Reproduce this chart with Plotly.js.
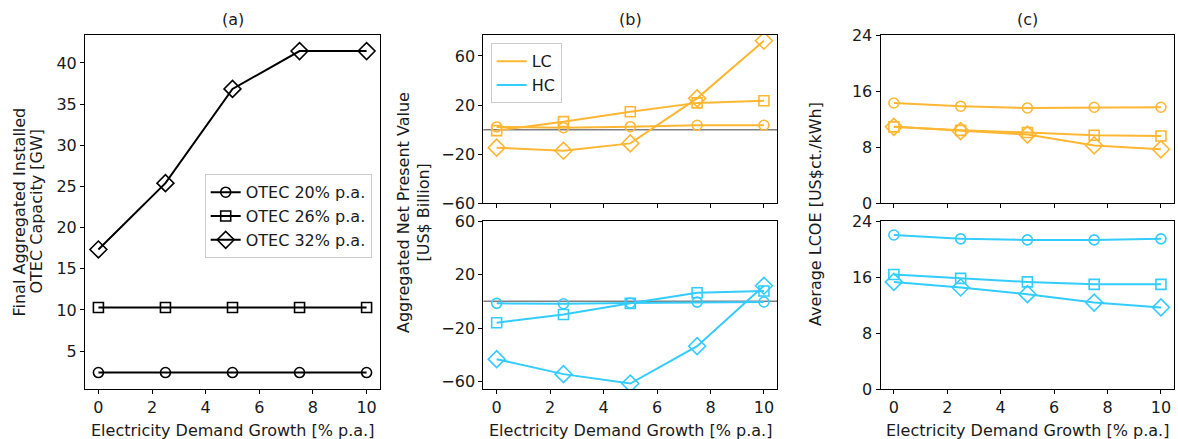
<!DOCTYPE html>
<html>
<head>
<meta charset="utf-8">
<script src="https://cdn.plot.ly/plotly-3.0.1.min.js"></script>
<style>html,body{margin:0;padding:0;background:#fff;}#chart{width:1178px;height:439px;}</style>
</head>
<body>
<div id="chart"></div>
<script>
// ---- data ----
const growth = [0, 2.5, 5, 7.5, 10];
const seriesNames = ["OTEC 20% p.a.", "OTEC 26% p.a.", "OTEC 32% p.a."];

// (a) Final aggregated installed OTEC capacity [GW]
const capacity20 = [2.4, 2.4, 2.4, 2.4, 2.4];
const capacity26 = [10.3, 10.3, 10.3, 10.3, 10.3];
const capacity32 = [17.35, 25.4, 36.85, 41.45, 41.45];

// (b) Aggregated NPV [US$ billion]
const npvLC20 = [2.2, 1.6, 2.4, 3.6, 3.6];
const npvLC26 = [-0.8, 6.5, 14.6, 21.8, 23.6];
const npvLC32 = [-14.7, -17.2, -11.2, 25.5, 72.4];
const npvHC20 = [-1.5, -1.8, -1.2, -0.6, -0.5];
const npvHC26 = [-16.0, -9.8, -1.5, 6.4, 7.7];
const npvHC32 = [-43.2, -54.4, -61.4, -33.5, 11.6];

// (c) Average LCOE [US$ct./kWh]
const lcoeLC20 = [14.3, 13.85, 13.6, 13.7, 13.7];
const lcoeLC26 = [10.9, 10.4, 10.1, 9.7, 9.6];
const lcoeLC32 = [10.9, 10.3, 9.8, 8.25, 7.7];
const lcoeHC20 = [22.0, 21.45, 21.3, 21.3, 21.45];
const lcoeHC26 = [16.35, 15.8, 15.3, 14.95, 14.95];
const lcoeHC32 = [15.3, 14.5, 13.55, 12.35, 11.65];

const xTicks = [0, 2, 4, 6, 8, 10];
const capTicks = [5, 10, 15, 20, 25, 30, 35, 40];
const npvTicks = [-60, -20, 20, 60];
const lcoeTicks = [0, 8, 16, 24];
const costLabels = ["LC", "HC"];

// ---- styles ----
const ORANGE = "#FFB733";
const CYAN = "#33CCFF";
const symbols = ["circle-open", "square-open", "diamond-open"];
const sizes = [10, 10, 13];
const FONT = "DejaVu Sans, sans-serif";
const FS = 16;

function tr(y, xa, ya, color, k, opts) {
  return Object.assign({
    x: growth, y: y, xaxis: xa, yaxis: ya, type: "scatter", mode: "lines+markers",
    line: {color: color, width: 2},
    marker: {symbol: symbols[k], size: sizes[k], color: color, line: {color: color, width: 1.6}},
    showlegend: false, hoverinfo: "x+y"
  }, opts || {});
}

const capSeries = [capacity20, capacity26, capacity32];
const traces = [];
capSeries.forEach((s, k) => traces.push(tr(s, "x", "y", "#000000", k,
  {name: seriesNames[k], showlegend: true, legend: "legend", legendgroup: "g" + k})));

[npvLC20, npvLC26, npvLC32].forEach((s, k) => traces.push(tr(s, "x2", "y2", ORANGE, k)));
[npvHC20, npvHC26, npvHC32].forEach((s, k) => traces.push(tr(s, "x3", "y3", CYAN, k)));
[lcoeLC20, lcoeLC26, lcoeLC32].forEach((s, k) => traces.push(tr(s, "x4", "y4", ORANGE, k)));
[lcoeHC20, lcoeHC26, lcoeHC32].forEach((s, k) => traces.push(tr(s, "x5", "y5", CYAN, k)));

// legend-only entries for LC / HC
[ORANGE, CYAN].forEach((c, i) => traces.push({
  x: [null], y: [null], xaxis: "x2", yaxis: "y2", type: "scatter", mode: "lines",
  line: {color: c, width: 2}, name: costLabels[i], showlegend: true, legend: "legend2",
  legendgroup: "c" + i
}));

const W = 1178, H = 439;
const px = v => v / W;
const py = v => (H - v) / H;

const domA = [px(85), px(380)];
const domB = [px(483.3), px(777.3)];
const domC = [px(880.5), px(1174.3)];
const yFull = [py(389), py(35)];
const yTop = [py(203.3), py(35)];
const yBot = [py(389), py(221)];

function xax(dom, anchor, labels) {
  return {
    domain: dom, anchor: anchor, range: [-0.5, 10.5], tickvals: xTicks,
    showticklabels: labels, ticks: "outside", ticklen: 4, tickwidth: 1, tickcolor: "#000",
    showline: true, mirror: true, linecolor: "#000", linewidth: 1,
    showgrid: false, zeroline: false,
    tickfont: {family: FONT, size: FS, color: "#1a1a1a"}
  };
}
function yax(dom, anchor, range, ticks) {
  return {
    domain: dom, anchor: anchor, range: range, tickvals: ticks,
    ticks: "outside", ticklen: 4, tickwidth: 1, tickcolor: "#000",
    showline: true, mirror: true, linecolor: "#000", linewidth: 1,
    showgrid: false, zeroline: false,
    tickfont: {family: FONT, size: FS, color: "#1a1a1a"}
  };
}

const xTitle = "Electricity Demand Growth [% p.a.]";
function ann(text, x, y, extra) {
  return Object.assign({text: text, x: x, y: y, xref: "paper", yref: "paper",
    showarrow: false, xanchor: "center", yanchor: "middle",
    font: {family: FONT, size: FS, color: "#1a1a1a"}}, extra || {});
}
const rot = {textangle: -90};

const layout = {
  width: W, height: H,
  margin: {l: 0, r: 0, t: 0, b: 0},
  paper_bgcolor: "#fff", plot_bgcolor: "#fff",
  font: {family: FONT, size: FS, color: "#1a1a1a"},
  xaxis: xax(domA, "y", true),
  yaxis: yax(yFull, "x", [0.4, 43.4], capTicks),
  xaxis2: xax(domB, "y2", false),
  yaxis2: yax(yTop, "x2", [-60, 77.1], npvTicks),
  xaxis3: xax(domB, "y3", true),
  yaxis3: yax(yBot, "x3", [-65.5, 60], npvTicks),
  xaxis4: xax(domC, "y4", false),
  yaxis4: yax(yTop, "x4", [0, 24], lcoeTicks),
  xaxis5: xax(domC, "y5", true),
  yaxis5: yax(yBot, "x5", [0, 24], lcoeTicks),
  legend: {
    x: px(371.7), y: py(174.3), xanchor: "right", yanchor: "top",
    bgcolor: "rgba(255,255,255,0.85)", bordercolor: "#cccccc", borderwidth: 1,
    font: {family: FONT, size: FS, color: "#1a1a1a"}, traceorder: "grouped", tracegroupgap: 0
  },
  legend2: {
    x: px(490.7), y: py(43.3), xanchor: "left", yanchor: "top",
    bgcolor: "rgba(255,255,255,0.85)", bordercolor: "#cccccc", borderwidth: 1,
    font: {family: FONT, size: FS, color: "#1a1a1a"}, traceorder: "grouped", tracegroupgap: 0
  },
  shapes: [
    {type: "line", xref: "x2 domain", yref: "y2", x0: 0, x1: 1, y0: 0, y1: 0,
     line: {color: "#808080", width: 1.5}, layer: "below"},
    {type: "line", xref: "x3 domain", yref: "y3", x0: 0, x1: 1, y0: 0, y1: 0,
     line: {color: "#808080", width: 1.5}, layer: "below"}
  ],
  annotations: [
    ann("(a)", px(232.5), py(20)),
    ann("(b)", px(630.3), py(20)),
    ann("(c)", px(1027.4), py(20)),
    ann(xTitle, px(232.5), py(430)),
    ann(xTitle, px(630.3), py(430)),
    ann(xTitle, px(1027.4), py(430)),
    ann("Final Aggregated Installed", px(19.5), py(212), rot),
    ann("OTEC Capacity [GW]", px(36.5), py(212), rot),
    ann("Aggregated Net Present Value", px(404), py(213), rot),
    ann("[US$ Billion]", px(423.5), py(213), rot),
    ann("Average LCOE [US$ct./kWh]", px(816), py(214), rot)
  ]
};

Plotly.newPlot("chart", traces, layout, {displayModeBar: false, staticPlot: true});
</script>
</body>
</html>
